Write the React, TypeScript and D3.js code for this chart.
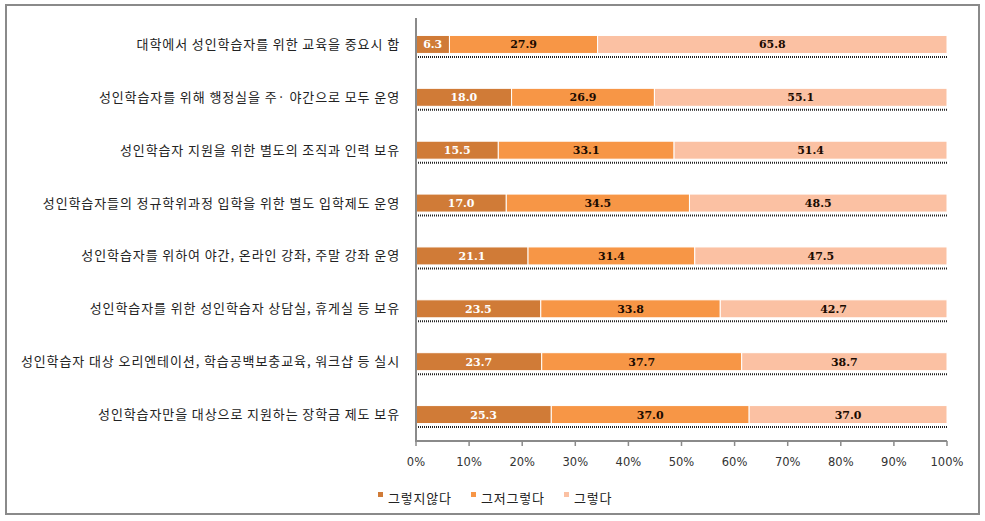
import React from "react";
import * as d3 from "d3";

const categories = [
  "대학에서 성인학습자를 위한 교육을 중요시 함",
  "성인학습자를 위해 행정실을 주· 야간으로 모두 운영",
  "성인학습자 지원을 위한 별도의 조직과 인력 보유",
  "성인학습자들의 정규학위과정 입학을 위한 별도 입학제도 운영",
  "성인학습자를 위하여 야간, 온라인 강좌, 주말 강좌 운영",
  "성인학습자를 위한 성인학습자 상담실, 휴게실 등 보유",
  "성인학습자 대상 오리엔테이션, 학습공백보충교육, 워크샵 등 실시",
  "성인학습자만을 대상으로 지원하는 장학금 제도 보유",
];
const seriesNames = ["그렇지않다", "그저그렇다", "그렇다"];
const disagree = [6.3, 18.0, 15.5, 17.0, 21.1, 23.5, 23.7, 25.3];
const neutral = [27.9, 26.9, 33.1, 34.5, 31.4, 33.8, 37.7, 37.0];
const agree = [65.8, 55.1, 51.4, 48.5, 47.5, 42.7, 38.7, 37.0];
const ticks = [0, 10, 20, 30, 40, 50, 60, 70, 80, 90, 100];

const colors = ["#D07B37", "#F79646", "#FBC1A3"];
const labelColors = ["#ffffff", "#1a0a00", "#1a0a00"];

export default function App() {
  const W = 985;
  const H = 521;
  const x = d3.scaleLinear().domain([0, 100]).range([416, 947]);
  const y = d3
    .scaleBand<string>()
    .domain(categories)
    .range([18, 441])
    .paddingInner(0.66)
    .paddingOuter(0.33);
  const rows = categories.map((c, i) => ({
    cat: c,
    vals: [disagree[i], neutral[i], agree[i]],
  }));
  const bw = y.bandwidth();
  const labelFont = "'Noto Sans CJK KR', 'Noto Sans', sans-serif";
  const legendX = [378, 471, 564];

  return (
    <svg
      width={W}
      height={H}
      style={{ position: "absolute", left: 0, top: 0, background: "#fff" }}
    >
      <rect x={6} y={5} width={973} height={509} fill="#fff" stroke="#8a8a8a" strokeWidth={2} />
      {rows.map((r) => {
        const yy = y(r.cat)!;
        const total = d3.sum(r.vals);
        let acc = 0;
        return (
          <g key={r.cat}>
            <line
              x1={x(0)}
              x2={x(100)}
              y1={yy + bw + 3.5}
              y2={yy + bw + 3.5}
              stroke="#222"
              strokeWidth={2}
              strokeDasharray="1,1"
            />
            {r.vals.map((v, k) => {
              const x0 = x((acc / total) * 100);
              acc += v;
              const x1 = x((acc / total) * 100);
              return (
                <g key={k}>
                  <rect
                    x={x0}
                    y={yy}
                    width={x1 - x0}
                    height={bw}
                    fill={colors[k]}
                    stroke="#fff"
                    strokeWidth={1}
                  />
                  <text
                    x={(x0 + x1) / 2}
                    y={yy + bw / 2}
                    dy="0.36em"
                    textAnchor="middle"
                    fontFamily="'DejaVu Serif', serif"
                    fontWeight="bold"
                    fontSize={11}
                    fill={labelColors[k]}
                  >
                    {v.toFixed(1)}
                  </text>
                </g>
              );
            })}
            <text
              x={400}
              y={yy + bw / 2}
              dy="0.35em"
              textAnchor="end"
              fontFamily={labelFont}
              fontSize={13}
              letterSpacing={0.9}
              fill="#222"
            >
              {r.cat}
            </text>
          </g>
        );
      })}
      <line x1={416} x2={416} y1={18} y2={442} stroke="#8a8a8a" strokeWidth={2} />
      <line x1={416} x2={x(100)} y1={441} y2={441} stroke="#8a8a8a" strokeWidth={2} />
      {ticks.map((t) => (
        <g key={t}>
          <line x1={x(t)} x2={x(t)} y1={441} y2={446} stroke="#8a8a8a" strokeWidth={1.5} />
          <text
            x={x(t)}
            y={462}
            dy="0.35em"
            textAnchor="middle"
            fontFamily="'DejaVu Sans', sans-serif"
            fontSize={11.5}
            fill="#333"
          >
            {t}%
          </text>
        </g>
      ))}
      {seriesNames.map((s, k) => (
        <g key={s}>
          <rect x={legendX[k]} y={492} width={5} height={5} fill={colors[k]} />
          <text
            x={legendX[k] + 10}
            y={498}
            dy="0.35em"
            fontFamily={labelFont}
            fontSize={13}
            letterSpacing={0.8}
            fill="#222"
          >
            {s}
          </text>
        </g>
      ))}
    </svg>
  );
}
